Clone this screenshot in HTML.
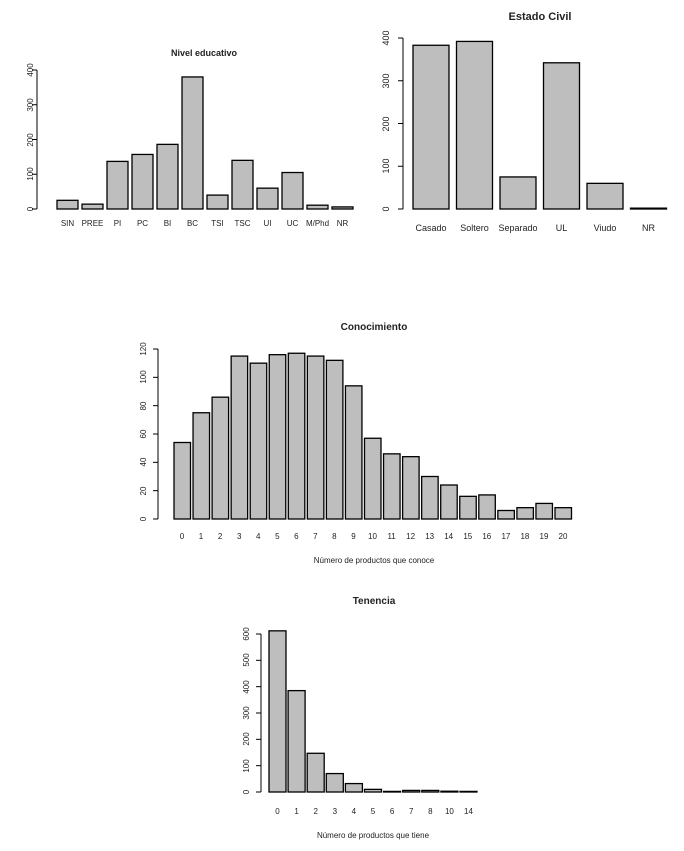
<!DOCTYPE html><html><head><style>body{margin:0;background:#fff}svg{display:block}text{font-family:"Liberation Sans",Arial,sans-serif;fill:#222}</style></head><body>
<svg id="s" width="684" height="851" xmlns="http://www.w3.org/2000/svg">
<g font-size="8" text-anchor="middle">
<text x="204" y="56" font-weight="bold" font-size="9">Nivel educativo</text>
<g transform="rotate(-90)"><text x="-209" y="33">0</text><text x="-174" y="33">100</text><text x="-140" y="33">200</text><text x="-105" y="33">300</text><text x="-70" y="33">400</text></g>
<text x="67.5" y="226">SIN</text><text x="92.5" y="226">PREE</text><text x="117.5" y="226">PI</text><text x="142.5" y="226">PC</text><text x="167.5" y="226">BI</text><text x="192.5" y="226">BC</text><text x="217.5" y="226">TSI</text><text x="242.5" y="226">TSC</text><text x="267.5" y="226">UI</text><text x="292.5" y="226">UC</text><text x="317.5" y="226">M/Phd</text><text x="342.5" y="226">NR</text>
<text x="540" y="20" font-weight="bold" font-size="11">Estado Civil</text>
<g transform="rotate(-90)" font-size="9"><text x="-209" y="389">0</text><text x="-166" y="389">100</text><text x="-124" y="389">200</text><text x="-81" y="389">300</text><text x="-38" y="389">400</text></g>
<g font-size="9"><text x="431" y="231">Casado</text><text x="474.5" y="231">Soltero</text><text x="518" y="231">Separado</text><text x="561.5" y="231">UL</text><text x="605" y="231">Viudo</text><text x="648.5" y="231">NR</text></g>
<text x="374" y="330" font-weight="bold" font-size="10">Conocimiento</text>
<g transform="rotate(-90)"><text x="-519" y="146">0</text><text x="-491" y="146">20</text><text x="-462" y="146">40</text><text x="-434" y="146">60</text><text x="-406" y="146">80</text><text x="-377" y="146">100</text><text x="-349" y="146">120</text></g>
<g id="cl"></g>
<text x="374" y="563">Número de productos que conoce</text>
<text x="374" y="604" font-weight="bold" font-size="10">Tenencia</text>
<g transform="rotate(-90)"><text x="-792" y="249">0</text><text x="-766" y="249">100</text><text x="-739" y="249">200</text><text x="-713" y="249">300</text><text x="-687" y="249">400</text><text x="-660" y="249">500</text><text x="-634" y="249">600</text></g>
<text x="277.5" y="814">0</text><text x="296.6" y="814">1</text><text x="315.7" y="814">2</text><text x="334.8" y="814">3</text><text x="353.9" y="814">4</text><text x="373" y="814">5</text><text x="392.1" y="814">6</text><text x="411.2" y="814">7</text><text x="430.3" y="814">8</text><text x="449.4" y="814">10</text><text x="468.5" y="814">14</text>
<text x="373" y="838">Número de productos que tiene</text>
<text x="182" y="539">0</text><text x="201" y="539">1</text><text x="220.1" y="539">2</text><text x="239.2" y="539">3</text><text x="258.2" y="539">4</text><text x="277.3" y="539">5</text><text x="296.3" y="539">6</text><text x="315.4" y="539">7</text><text x="334.4" y="539">8</text><text x="353.5" y="539">9</text><text x="372.5" y="539">10</text><text x="391.6" y="539">11</text><text x="410.6" y="539">12</text><text x="429.7" y="539">13</text><text x="448.7" y="539">14</text><text x="467.8" y="539">15</text><text x="486.8" y="539">16</text><text x="505.9" y="539">17</text><text x="524.9" y="539">18</text><text x="544" y="539">19</text><text x="563" y="539">20</text>
</g>
<g id="b" fill="#bebebe" stroke="#000" stroke-width="1.3"></g>
<g id="ax" stroke="#000" stroke-width="1" fill="none"></g>
</svg>
<script>
var b=document.getElementById('b'),ax=document.getElementById('ax'),ns='http://www.w3.org/2000/svg';
function el(p,t,a){var e=document.createElementNS(ns,t);for(var k in a)e.setAttribute(k,a[k]);p.appendChild(e);}
function chart(vals,x0,pitch,w,y0,ymaxPx,ymax,axX,ticks){
 var sc=(y0-ymaxPx)/ymax;
 vals.forEach(function(v,i){var h=Math.max(v*sc,0.6);el(b,'rect',{x:x0+i*pitch,y:y0-h,width:w,height:h});});
 el(ax,'line',{x1:axX,y1:y0,x2:axX,y2:ymaxPx});
 ticks.forEach(function(t){var y=y0-t*sc;el(ax,'line',{x1:axX,y1:y,x2:axX-5,y2:y});});
}
chart([25,14,137,157,186,380,40,140,60,105,11,6],57,25,21,209,70,400,37,[0,100,200,300,400]);
chart([383,392,75,342,60,2],413,43.5,36,209,38,400,403,[0,100,200,300,400]);
chart([54,75,86,115,110,116,117,115,112,94,57,46,44,30,24,16,17,6,8,11,8],174,19.05,16.5,519,349,120,158,[0,20,40,60,80,100,120]);
chart([612,385,147,70,32,10,2,6,6,3,2],269,19.1,17,792,634,600,261,[0,100,200,300,400,500,600]);
</script>
</body></html>
